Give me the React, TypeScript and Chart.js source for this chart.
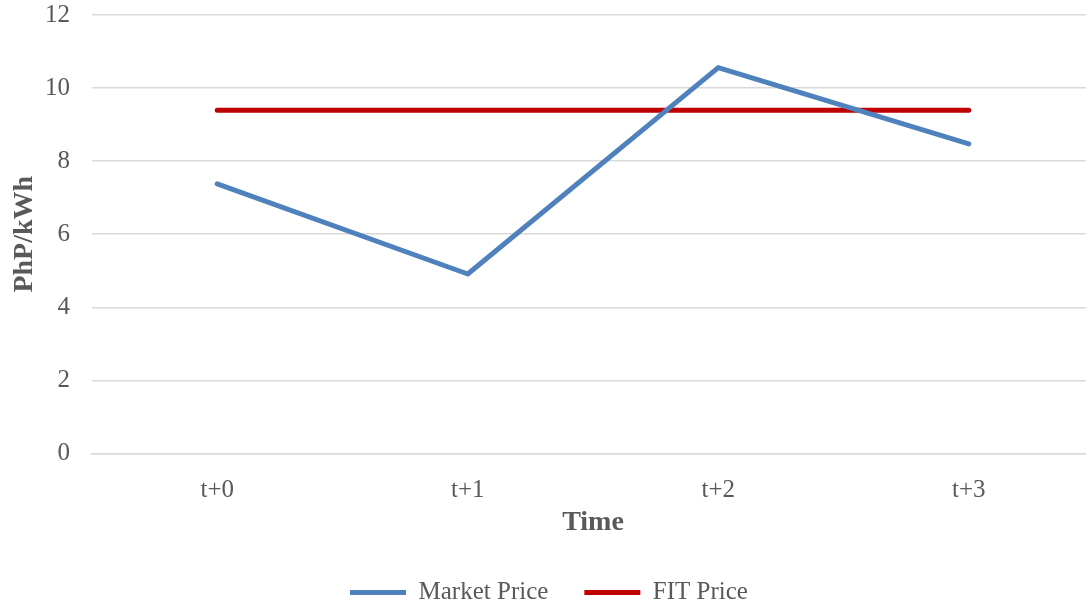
import React, { useEffect, useRef } from "react";
import { Chart, registerables } from "chart.js";

Chart.register(...registerables);

const categories = ["t+0", "t+1", "t+2", "t+3"];
const marketPrice = [7.38, 4.91, 10.56, 8.47];
const fitPrice = [9.39, 9.39, 9.39, 9.39];
const yTicks = { min: 0, max: 12, step: 2 };

const FONT = "'Liberation Serif', 'Times New Roman', serif";
const TEXT = "#595959";
const GRID = "#d9d9d9";

export default function App() {
  const ref = useRef<HTMLCanvasElement | null>(null);

  useEffect(() => {
    if (!ref.current) return;
    const chart = new Chart(ref.current, {
      type: "line",
      data: {
        labels: categories,
        datasets: [
          {
            label: "Market Price",
            data: marketPrice,
            borderColor: "#4f81bd",
            backgroundColor: "#4f81bd",
            borderWidth: 5,
            borderCapStyle: "round",
            borderJoinStyle: "round",
            pointRadius: 0,
            tension: 0,
          },
          {
            label: "FIT Price",
            data: fitPrice,
            borderColor: "#c00000",
            backgroundColor: "#c00000",
            borderWidth: 5,
            borderCapStyle: "round",
            borderJoinStyle: "round",
            pointRadius: 0,
            tension: 0,
          },
        ],
      },
      options: {
        animation: false,
        responsive: true,
        maintainAspectRatio: false,
        layout: { padding: { left: 4, right: 6, top: 15, bottom: -6 } },
        plugins: {
          tooltip: { enabled: false },
          legend: {
            position: "bottom",
            labels: {
              usePointStyle: true,
              pointStyle: "line",
              pointStyleWidth: 56,
              color: TEXT,
              font: { family: FONT, size: 25 },
              padding: 36,
            },
          },
        },
        scales: {
          x: {
            offset: true,
            grid: { display: false },
            border: { display: true, color: GRID, width: 1.5 },
            ticks: {
              color: TEXT,
              font: { family: FONT, size: 25 },
              padding: 14,
            },
            title: {
              display: true,
              text: "Time",
              color: TEXT,
              font: { family: FONT, size: 28, weight: "bold" },
              padding: { top: -13, bottom: 4 },
            },
          },
          y: {
            min: yTicks.min,
            max: yTicks.max,
            border: { display: false },
            grid: { color: GRID, lineWidth: 1.5, drawTicks: false },
            ticks: {
              stepSize: yTicks.step,
              color: TEXT,
              font: { family: FONT, size: 25 },
              padding: 22,
            },
            title: {
              display: true,
              text: "PhP/kWh",
              color: TEXT,
              font: { family: FONT, size: 28, weight: "bold" },
              padding: { top: 4, bottom: 8 },
            },
            afterFit: (scale: any) => {
              scale.width = 88;
              scale.paddingTop = 0;
              scale.paddingBottom = 0;
            },
          },
        },
      },
    });
    return () => chart.destroy();
  }, []);

  return (
    <div
      style={{
        position: "absolute",
        left: 0,
        top: 0,
        width: 1086,
        height: 609,
        overflow: "hidden",
        background: "#fff",
      }}
    >
      <div style={{ position: "relative", width: 1100, height: 609 }}>
        <canvas ref={ref} />
      </div>
    </div>
  );
}
